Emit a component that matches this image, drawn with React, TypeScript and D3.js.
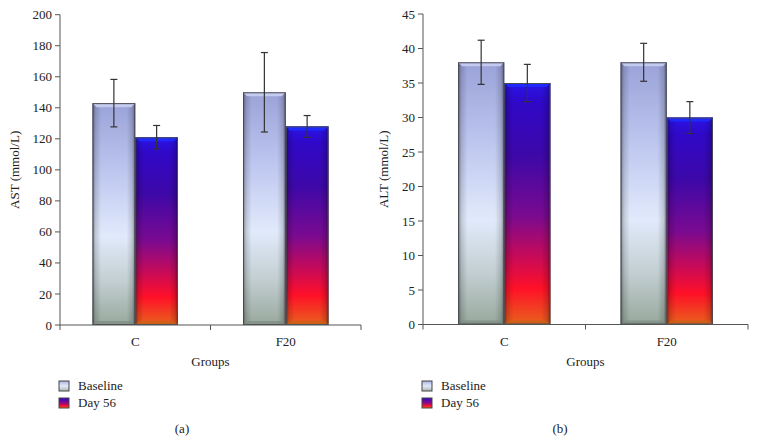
import React from "react";
import * as d3 from "d3";

const groups = ["C", "F20"];
const seriesNames = ["Baseline", "Day 56"];
const astMeans = [[143, 121], [150, 128]];
const astErr = [[15.3, 7.6], [25.6, 7]];
const altMeans = [[38, 35], [38, 30]];
const altErr = [[3.2, 2.7], [2.75, 2.3]];
const astTicks = [0, 20, 40, 60, 80, 100, 120, 140, 160, 180, 200];
const altTicks = [0, 5, 10, 15, 20, 25, 30, 35, 40, 45];

const FONT = "'Liberation Serif', 'Times New Roman', serif";
const AXIS = "#555";

type PanelProps = {
  id: string;
  x0: number;
  x1: number;
  yTop: number;
  yBot: number;
  yMax: number;
  ticks: number[];
  means: number[][];
  errs: number[][];
  yLabel: string;
  yLabelX: number;
  letter: string;
  letterX: number;
};

function Bar({ x, y, w, h, s }: { x: number; y: number; w: number; h: number; s: number }) {
  const b = 4;
  const fill = s === 0 ? "url(#gBase)" : "url(#gDay)";
  const topBevel = s === 0 ? "#c9cff2" : "#1e2cff";
  const botBevel = s === 0 ? "#7e8e84" : "#c86018";
  return (
    <g>
      <rect x={x} y={y} width={w} height={h} fill={fill} />
      <rect x={x} y={y} width={w} height={h} fill="url(#gSide)" />
      <polygon
        points={`${x},${y} ${x + w},${y} ${x + w - b},${y + b} ${x + b},${y + b}`}
        fill={topBevel}
        opacity={0.9}
      />
      <polygon
        points={`${x},${y + h} ${x + w},${y + h} ${x + w - b},${y + h - b} ${x + b},${y + h - b}`}
        fill={botBevel}
        opacity={0.8}
      />
      <rect x={x + 0.5} y={y + 0.5} width={w - 1} height={h - 1} fill="none" stroke="#4a4a55" strokeWidth={1} />
    </g>
  );
}

function Panel(p: PanelProps) {
  const y = d3.scaleLinear().domain([0, p.yMax]).range([p.yBot, p.yTop]);
  const x = d3.scaleBand<string>().domain(groups).range([p.x0, p.x1]).paddingInner(0).paddingOuter(0);
  const xs = d3.scaleBand<string>().domain(seriesNames).range([0, x.bandwidth()]).paddingInner(0).paddingOuter(0.76);
  const boundaries = [p.x0, ...groups.map((g) => (x(g) as number) + x.bandwidth())];
  const legendX = p.x0 - 1;
  return (
    <g>
      {/* bars */}
      {groups.map((g, gi) =>
        seriesNames.map((s, si) => {
          const bx = (x(g) as number) + (xs(s) as number);
          const v = p.means[gi][si];
          const top = y(v);
          return <Bar key={g + s} x={bx} y={top} w={xs.bandwidth()} h={p.yBot - top} s={si} />;
        })
      )}
      {/* error bars */}
      {groups.map((g, gi) =>
        seriesNames.map((s, si) => {
          const cx = (x(g) as number) + (xs(s) as number) + xs.bandwidth() / 2;
          const v = p.means[gi][si];
          const e = p.errs[gi][si];
          const yt = y(v + e);
          const yb = y(v - e);
          return (
            <g key={"e" + g + s} stroke="#333" strokeWidth={1.2}>
              <line x1={cx} x2={cx} y1={yt} y2={yb} />
              <line x1={cx - 3.5} x2={cx + 3.5} y1={yt} y2={yt} />
              <line x1={cx - 3.5} x2={cx + 3.5} y1={yb} y2={yb} />
            </g>
          );
        })
      )}
      {/* y axis */}
      <line x1={p.x0} x2={p.x0} y1={p.yTop} y2={p.yBot} stroke={AXIS} strokeWidth={1} />
      {p.ticks.map((t) => (
        <g key={"t" + t}>
          <line x1={p.x0 - 5} x2={p.x0} y1={y(t)} y2={y(t)} stroke={AXIS} />
          <text x={p.x0 - 8} y={y(t)} dy="0.35em" textAnchor="end" fontSize={13} fontFamily={FONT} fill="#222">
            {t}
          </text>
        </g>
      ))}
      {/* x axis */}
      <line x1={p.x0} x2={p.x1} y1={p.yBot} y2={p.yBot} stroke={AXIS} strokeWidth={1} />
      {boundaries.map((bx, i) => (
        <line key={"xb" + i} x1={bx} x2={bx} y1={p.yBot} y2={p.yBot + 5} stroke={AXIS} />
      ))}
      {groups.map((g) => (
        <text
          key={"xl" + g}
          x={(x(g) as number) + x.bandwidth() / 2}
          y={346}
          textAnchor="middle"
          fontSize={13}
          fontFamily={FONT}
          fill="#222"
        >
          {g}
        </text>
      ))}
      <text x={(p.x0 + p.x1) / 2} y={366} textAnchor="middle" fontSize={13} fontFamily={FONT} fill="#222">
        Groups
      </text>
      <text
        transform={`translate(${p.yLabelX},${(p.yTop + p.yBot) / 2}) rotate(-90)`}
        textAnchor="middle"
        fontSize={13}
        fontFamily={FONT}
        fill="#222"
      >
        {p.yLabel}
      </text>
      {/* legend */}
      {seriesNames.map((s, i) => (
        <g key={"lg" + s}>
          <rect
            x={legendX}
            y={381 + i * 17}
            width={10}
            height={10}
            fill={i === 0 ? "url(#gLegBase)" : "url(#gLegDay)"}
            stroke="#444"
            strokeWidth={1}
          />
          <text x={legendX + 19} y={390 + i * 17} fontSize={13} fontFamily={FONT} fill="#222">
            {s}
          </text>
        </g>
      ))}
      <text x={p.letterX} y={433} textAnchor="middle" fontSize={13} fontFamily={FONT} fill="#222">
        {p.letter}
      </text>
    </g>
  );
}

export default function App() {
  return (
    <svg
      width={757}
      height={442}
      viewBox="0 0 757 442"
      style={{ position: "absolute", left: 0, top: 0, background: "#fff" }}
    >
      <defs>
        <linearGradient id="gBase" x1="0" y1="0" x2="0" y2="1">
          <stop offset="0" stopColor="#9aa2d8" />
          <stop offset="0.3" stopColor="#bcc5ee" />
          <stop offset="0.6" stopColor="#e1eafb" />
          <stop offset="0.8" stopColor="#c3cfd2" />
          <stop offset="1" stopColor="#98a89d" />
        </linearGradient>
        <linearGradient id="gDay" x1="0" y1="0" x2="0" y2="1">
          <stop offset="0" stopColor="#2a14e8" />
          <stop offset="0.08" stopColor="#3008c8" />
          <stop offset="0.3" stopColor="#3d08a8" />
          <stop offset="0.55" stopColor="#7a0a90" />
          <stop offset="0.72" stopColor="#c80a58" />
          <stop offset="0.85" stopColor="#ff1028" />
          <stop offset="1" stopColor="#e8621c" />
        </linearGradient>
        <linearGradient id="gSide" x1="0" y1="0" x2="1" y2="0">
          <stop offset="0" stopColor="#000" stopOpacity="0.45" />
          <stop offset="0.07" stopColor="#000" stopOpacity="0.15" />
          <stop offset="0.2" stopColor="#000" stopOpacity="0" />
          <stop offset="0.8" stopColor="#000" stopOpacity="0" />
          <stop offset="0.93" stopColor="#000" stopOpacity="0.15" />
          <stop offset="1" stopColor="#000" stopOpacity="0.45" />
        </linearGradient>
        <linearGradient id="gLegBase" x1="0" y1="0" x2="0" y2="1">
          <stop offset="0" stopColor="#aab2e0" />
          <stop offset="0.5" stopColor="#e1eafb" />
          <stop offset="1" stopColor="#a8b6ae" />
        </linearGradient>
        <linearGradient id="gLegDay" x1="0" y1="0" x2="0" y2="1">
          <stop offset="0" stopColor="#3008c8" />
          <stop offset="0.5" stopColor="#8a0a88" />
          <stop offset="0.8" stopColor="#ff1028" />
          <stop offset="1" stopColor="#e8621c" />
        </linearGradient>
      </defs>
      <Panel
        id="a"
        x0={60}
        x1={361}
        yTop={14.7}
        yBot={325}
        yMax={200}
        ticks={astTicks}
        means={astMeans}
        errs={astErr}
        yLabel="AST (mmol/L)"
        yLabelX={19}
        letter="(a)"
        letterX={182}
      />
      <Panel
        id="b"
        x0={423}
        x1={748}
        yTop={14}
        yBot={324.5}
        yMax={45}
        ticks={altTicks}
        means={altMeans}
        errs={altErr}
        yLabel="ALT (mmol/L)"
        yLabelX={388}
        letter="(b)"
        letterX={560}
      />
    </svg>
  );
}
